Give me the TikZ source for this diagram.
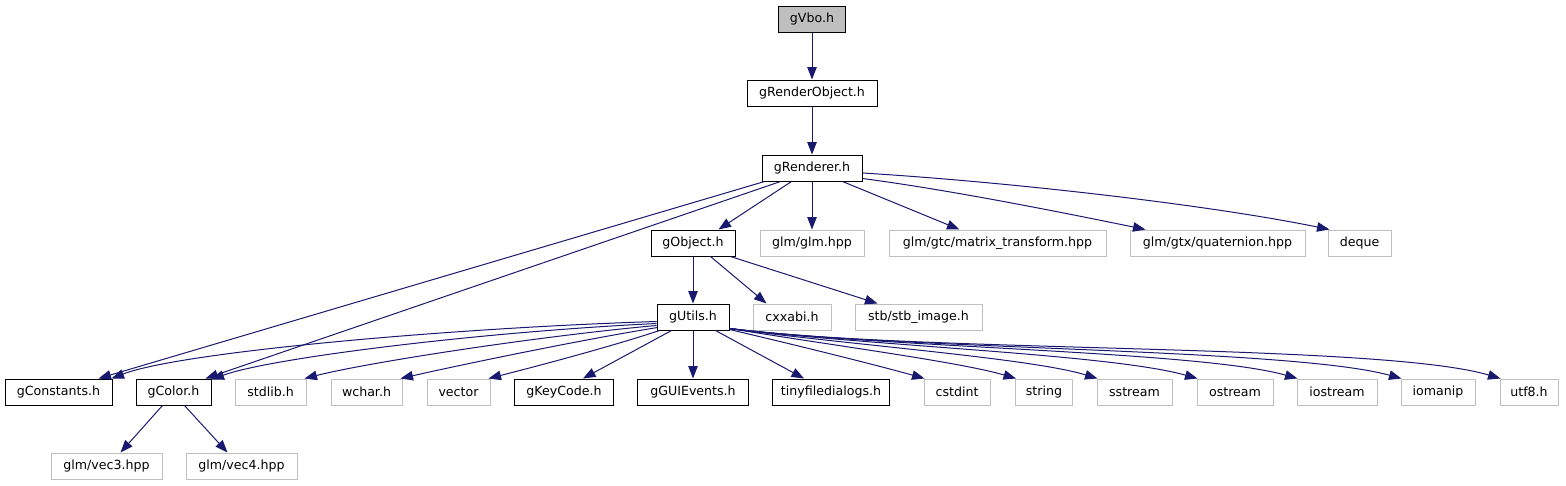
\documentclass[tikz,border=0pt]{standalone}
\usepackage{fontspec}
\setmainfont{DejaVu Sans}
\usetikzlibrary{arrows.meta}
\definecolor{edgec}{HTML}{191970}
\definecolor{greyb}{HTML}{BFBFBF}
\tikzset{
  basebox/.style={inner sep=0pt, minimum height=26pt, font=\fontsize{12.6}{14}\selectfont, text=black},
  nb/.style={basebox, draw=black, line width=1pt, fill=white},
  ng/.style={basebox, draw=greyb, line width=1pt, fill=white},
  nroot/.style={basebox, draw=black, line width=1pt, fill=greyb},
  e/.style={draw=edgec, line width=1pt, -{Triangle[length=12.5pt,width=9.5pt]}}
}
\begin{document}
\begin{tikzpicture}[x=1pt,y=-1pt]
\useasboundingbox[fill=white] (0,0) rectangle (1566,485);
% row 0-2
\node[nroot, minimum width=67pt] (gvbo) at (812,19) {gVbo.h};
\node[nb, minimum width=130pt] (gro) at (812,93) {gRenderObject.h};
\node[nb, minimum width=100pt] (grend) at (812,168) {gRenderer.h};
% row 3
\node[nb, minimum width=84pt] (gobj) at (693,243) {gObject.h};
\node[ng, minimum width=104pt] (glm) at (812,243) {glm/glm.hpp};
\node[ng, minimum width=217pt] (mtx) at (997.5,243) {glm/gtc/matrix\_transform.hpp};
\node[ng, minimum width=175pt] (quat) at (1217.5,243) {glm/gtx/quaternion.hpp};
\node[ng, minimum width=63pt] (deque) at (1359.5,243) {deque};
% row 4
\node[nb, minimum width=72pt] (gutils) at (693,317) {gUtils.h};
\node[ng, minimum width=78pt] (cxx) at (792,317) {cxxabi.h};
\node[ng, minimum width=127pt] (stb) at (918.5,317) {stb/stb\_image.h};
% row 5
\node[nb, minimum width=107pt] (gconst) at (58.5,392) {gConstants.h};
\node[nb, minimum width=75pt] (gcolor) at (173.5,392) {gColor.h};
\node[ng, minimum width=71pt] (stdlib) at (270.5,392) {stdlib.h};
\node[ng, minimum width=71pt] (wchar) at (366.5,392) {wchar.h};
\node[ng, minimum width=63pt] (vector) at (458.5,392) {vector};
\node[nb, minimum width=99pt] (gkey) at (564,392) {gKeyCode.h};
\node[nb, minimum width=111pt] (ggui) at (693,392) {gGUIEvents.h};
\node[nb, minimum width=117pt] (tiny) at (831,392) {tinyfiledialogs.h};
\node[ng, minimum width=66pt] (cstdint) at (957,392) {cstdint};
\node[ng, minimum width=57pt] (string) at (1044,392) {string};
\node[ng, minimum width=75pt] (sstream) at (1134.5,392) {sstream};
\node[ng, minimum width=76pt] (ostream) at (1235,392) {ostream};
\node[ng, minimum width=80pt] (iostream) at (1337,392) {iostream};
\node[ng, minimum width=74pt] (iomanip) at (1438,392) {iomanip};
\node[ng, minimum width=58pt] (utf8) at (1529,392) {utf8.h};
% row 6
\node[ng, minimum width=111pt] (vec3) at (106.5,466) {glm/vec3.hpp};
\node[ng, minimum width=111pt] (vec4) at (241.5,466) {glm/vec4.hpp};
% edges top
\draw[e] (gvbo.south) -- (gro.north);
\draw[e] (gro.south) -- (grend.north);
\draw[e] ([xshift=3pt]grend.south west) -- ([xshift=-14pt]gconst.north east);
\draw[e] ([xshift=19pt]grend.south west) -- ([xshift=-6pt]gcolor.north east);
\draw[e] ([xshift=30pt]grend.south west) -- ([xshift=-17pt]gobj.north east);
\draw[e] (grend.south) -- (glm.north);
\draw[e] ([xshift=-20pt]grend.south east) -- ([xshift=71pt]mtx.north west);
\draw[e] ([yshift=3pt]grend.south east) .. controls (950,190) and (1060,212) .. ([xshift=16pt]quat.north west);
\draw[e] ([yshift=-5pt]grend.east) .. controls (1010,182) and (1210,205) .. ([xshift=2pt]deque.north west);
% gObject
\draw[e] (gobj.south) -- (gutils.north);
\draw[e] ([xshift=-25pt]gobj.south east) -- ([xshift=14pt]cxx.north west);
\draw[e] ([xshift=-5pt]gobj.south east) -- ([xshift=23pt]stb.north west);
% gUtils left
\draw[e] ([yshift=9pt]gutils.south west) .. controls (450,328) and (180,352) .. ([xshift=-1pt]gconst.north east);
\draw[e] ([yshift=7pt]gutils.south west) .. controls (480,332) and (270,358) .. ([yshift=-1pt]gcolor.north east);
\draw[e] ([yshift=5pt]gutils.south west) .. controls (540,336) and (370,362) .. ([xshift=-2pt]stdlib.north east);
\draw[e] ([xshift=1pt,yshift=3pt]gutils.south west) .. controls (580,340) and (460,365) .. ([xshift=-2pt]wchar.north east);
\draw[e] ([xshift=3pt]gutils.south west) .. controls (610,347) and (530,368) .. ([xshift=-2pt]vector.north east);
\draw[e] ([xshift=15pt]gutils.south west) -- ([xshift=-31pt]gkey.north east);
\draw[e] (gutils.south) -- (ggui.north);
\draw[e] ([xshift=-14pt]gutils.south east) -- ([xshift=32pt]tiny.north west);
% gUtils right
\draw[e] ([yshift=1pt]gutils.south east) .. controls (800,346) and (880,366) .. ([xshift=1pt]cstdint.north west);
\draw[e] ([yshift=2pt]gutils.south east) .. controls (830,345) and (960,362) .. ([xshift=1pt]string.north west);
\draw[e] ([yshift=2pt]gutils.south east) .. controls (850,345) and (1030,358) .. ([xshift=1pt]sstream.north west);
\draw[e] ([yshift=2pt]gutils.south east) .. controls (870,346) and (1110,354) .. ([xshift=1pt]ostream.north west);
\draw[e] ([yshift=2pt]gutils.south east) .. controls (890,348) and (1200,351) .. ([xshift=1pt]iostream.north west);
\draw[e] ([yshift=2pt]gutils.south east) .. controls (900,350) and (1290,348) .. ([xshift=1pt]iomanip.north west);
\draw[e] ([yshift=2pt]gutils.south east) .. controls (920,353) and (1380,343) .. ([xshift=1pt]utf8.north west);
% gColor
\draw[e] ([xshift=-11pt]gcolor.south) -- ([xshift=14pt]vec3.north);
\draw[e] ([xshift=11pt]gcolor.south) -- ([xshift=-14pt]vec4.north);
\end{tikzpicture}
\end{document}
